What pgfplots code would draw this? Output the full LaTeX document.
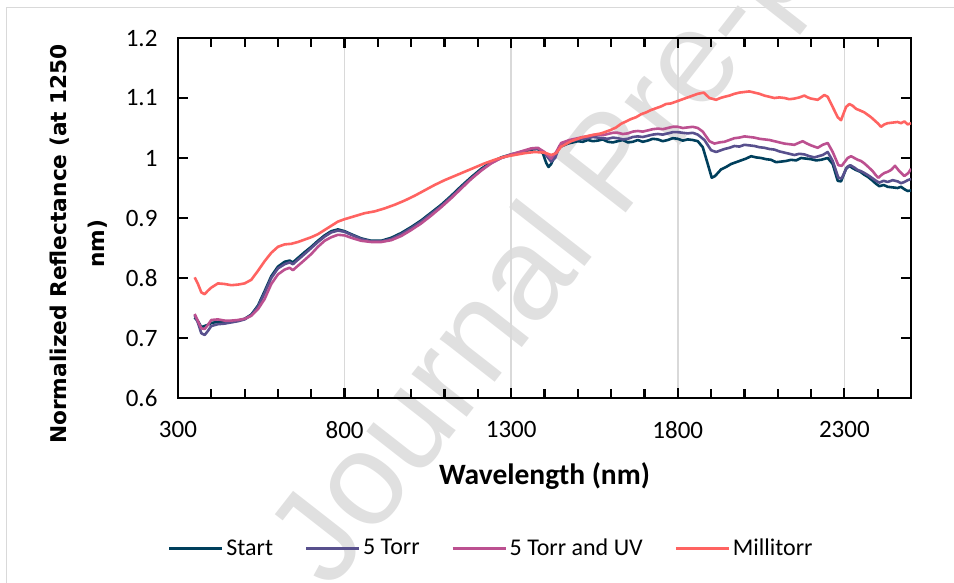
\documentclass[border=0pt]{standalone}
\usepackage{pgfplots}
\pgfplotsset{compat=1.18}
\usepackage{fontspec}
\setmainfont{Carlito}
\newfontfamily\dejavu{DejaVu Sans}
\newfontfamily\wmfont{Liberation Sans}
\definecolor{cStart}{HTML}{003F5C}
\definecolor{cFive}{HTML}{58508D}
\definecolor{cUV}{HTML}{BC5090}
\definecolor{cMilli}{HTML}{FF6361}
\begin{document}
\begin{tikzpicture}[x=1pt,y=1pt]
\path[use as bounding box] (0pt,0pt) rectangle (954pt,583pt);
\begin{scope}
\clip (0pt,0pt) rectangle (954pt,583pt);
\draw[black!15, line width=1pt] (6pt,-5pt) -- (6pt,575pt) -- (960pt,575pt);
\node[rotate=52, text=black!12, font=\wmfont\fontsize{132}{132}\selectfont] at (618pt,414pt) {Journal Pre-proof};
\end{scope}
\begin{axis}[
  at={(178pt,185pt)}, anchor=south west,
  scale only axis, width=733pt, height=360pt,
  xmin=300, xmax=2500, ymin=0.6, ymax=1.2,
  xtick={300,800,1300,1800,2300},
  xticklabels={300,800,1300,1800,2300},
  minor xtick={400,500,...,2500},
  ytick={0.6,0.7,0.8,0.9,1,1.1,1.2},
  yticklabels={0.6,0.7,0.8,0.9,1,1.1,1.2},
  tick align=inside, xtick pos=both, ytick pos=both,
  major tick length=10pt, minor tick length=9pt,
  tick style={draw=black, line width=2.2pt},
  axis line style={line width=2.2pt},
  tick label style={font=\fontsize{25}{30}\selectfont},
  /pgf/number format/assume math mode=true,
  xticklabel style={yshift=-20pt},
  yticklabel style={xshift=-17pt},
  xlabel={Wavelength (nm)},
  xlabel style={font=\bfseries\fontsize{29.5}{34}\selectfont, at={(axis description cs:0.5,-0.2167)}, anchor=center},
  ylabel={Normalized Reflectance (at 1250\\nm)},
  ylabel style={font=\dejavu\bfseries\fontsize{21.7}{38}\selectfont, align=center, at={(axis description cs:-0.135,0.428)}, anchor=center},
  legend columns=4,
  legend style={at={(axis description cs:0.4277,-0.4167)}, anchor=center, draw=none, fill=none,
    font=\fontsize{24}{28}\selectfont,
    /tikz/every even column/.append style={column sep=29pt},
    inner sep=0pt, nodes={inner sep=2.5pt}},
  legend image code/.code={\draw[#1, line width=3pt] (0pt,0pt) -- (53pt,0pt);},
  unbounded coords=jump,
]
\addplot[black!15, line width=1.5pt, forget plot] coordinates {(800,0.6) (800,1.2) (800,nan) (1300,0.6) (1300,1.2) (1300,nan) (1800,0.6) (1800,1.2) (1800,nan) (2300,0.6) (2300,1.2)};
\addplot[black, line width=2.2pt, forget plot] coordinates {
(400,0.6) (400,0.615) (400,nan) (500,0.6) (500,0.615) (500,nan) (600,0.6) (600,0.615) (600,nan)
(700,0.6) (700,0.615) (700,nan) (800,0.6) (800,0.617) (800,nan) (900,0.6) (900,0.615) (900,nan)
(1000,0.6) (1000,0.615) (1000,nan) (1100,0.6) (1100,0.615) (1100,nan) (1200,0.6) (1200,0.615) (1200,nan)
(1300,0.6) (1300,0.617) (1300,nan) (1400,0.6) (1400,0.615) (1400,nan) (1500,0.6) (1500,0.615) (1500,nan)
(1600,0.6) (1600,0.615) (1600,nan) (1700,0.6) (1700,0.615) (1700,nan) (1800,0.6) (1800,0.617) (1800,nan)
(1900,0.6) (1900,0.615) (1900,nan) (2000,0.6) (2000,0.615) (2000,nan) (2100,0.6) (2100,0.615) (2100,nan)
(2200,0.6) (2200,0.615) (2200,nan) (2300,0.6) (2300,0.617) (2300,nan) (2400,0.6) (2400,0.615)
};
\addplot[black, line width=2.2pt, forget plot] coordinates {
(400,1.2) (400,1.185) (400,nan) (500,1.2) (500,1.185) (500,nan) (600,1.2) (600,1.185) (600,nan)
(700,1.2) (700,1.185) (700,nan) (800,1.2) (800,1.183) (800,nan) (900,1.2) (900,1.185) (900,nan)
(1000,1.2) (1000,1.185) (1000,nan) (1100,1.2) (1100,1.185) (1100,nan) (1200,1.2) (1200,1.185) (1200,nan)
(1300,1.2) (1300,1.183) (1300,nan) (1400,1.2) (1400,1.185) (1400,nan) (1500,1.2) (1500,1.185) (1500,nan)
(1600,1.2) (1600,1.185) (1600,nan) (1700,1.2) (1700,1.185) (1700,nan) (1800,1.2) (1800,1.183) (1800,nan)
(1900,1.2) (1900,1.185) (1900,nan) (2000,1.2) (2000,1.185) (2000,nan) (2100,1.2) (2100,1.185) (2100,nan)
(2200,1.2) (2200,1.185) (2200,nan) (2300,1.2) (2300,1.183) (2300,nan) (2400,1.2) (2400,1.185)
};
\addplot[black, line width=2.2pt, forget plot] coordinates {
(300,0.7) (328,0.7) (300,nan) (300,0.8) (328,0.8) (300,nan) (300,0.9) (328,0.9) (300,nan)
(300,1.0) (328,1.0) (300,nan) (300,1.1) (328,1.1) (300,nan)
(2500,0.7) (2472,0.7) (2500,nan) (2500,0.8) (2472,0.8) (2500,nan) (2500,0.9) (2472,0.9) (2500,nan)
(2500,1.0) (2472,1.0) (2500,nan) (2500,1.1) (2472,1.1)
};
\addplot[cStart, line width=2.6pt, line join=round] table {
350 0.734
360 0.728
370 0.718
380 0.720
390 0.722
400 0.725
420 0.727
440 0.727
460 0.728
480 0.729
500 0.732
520 0.739
540 0.754
560 0.778
580 0.803
600 0.819
620 0.827
635 0.829
645 0.826
655 0.831
680 0.843
700 0.852
720 0.862
740 0.871
760 0.878
780 0.881
800 0.878
820 0.873
850 0.866
880 0.862
910 0.862
940 0.867
970 0.875
1000 0.885
1030 0.896
1060 0.909
1090 0.922
1120 0.937
1150 0.953
1180 0.968
1210 0.982
1240 0.993
1270 1.001
1300 1.006
1330 1.010
1360 1.014
1380 1.015
1395 1.008
1405 0.992
1412 0.985
1420 0.990
1430 1.003
1445 1.018
1470 1.024
1500 1.028
1515 1.027
1530 1.030
1545 1.028
1560 1.029
1575 1.031
1590 1.027
1605 1.026
1620 1.028
1635 1.030
1650 1.026
1665 1.027
1680 1.030
1695 1.027
1710 1.029
1725 1.032
1740 1.031
1755 1.028
1770 1.030
1785 1.033
1800 1.032
1815 1.029
1830 1.031
1845 1.030
1860 1.028
1875 1.018
1890 0.990
1902 0.967
1912 0.970
1930 0.981
1945 0.985
1960 0.990
1975 0.993
1990 0.996
2005 0.999
2020 1.003
2035 1.001
2050 1.000
2065 0.998
2080 0.997
2095 0.993
2110 0.994
2125 0.995
2140 0.997
2155 0.996
2170 1.000
2185 0.999
2200 0.998
2215 0.996
2230 0.997
2250 1.000
2265 0.990
2280 0.962
2290 0.961
2305 0.982
2315 0.987
2325 0.983
2335 0.980
2348 0.977
2360 0.972
2372 0.968
2385 0.962
2395 0.957
2405 0.953
2418 0.955
2430 0.952
2445 0.951
2460 0.950
2470 0.952
2480 0.948
2490 0.945
2500 0.946
};
\addlegendentry{Start}
\addplot[cFive, line width=2.6pt, line join=round] table {
350 0.738
360 0.725
370 0.708
380 0.705
390 0.712
400 0.720
420 0.723
440 0.724
460 0.726
480 0.728
500 0.731
520 0.738
540 0.752
560 0.775
580 0.800
600 0.816
620 0.823
635 0.826
645 0.823
655 0.828
680 0.840
700 0.850
720 0.860
740 0.869
760 0.876
780 0.879
800 0.877
820 0.872
850 0.865
880 0.861
910 0.861
940 0.865
970 0.873
1000 0.883
1030 0.894
1060 0.907
1090 0.920
1120 0.935
1150 0.951
1180 0.966
1210 0.980
1240 0.992
1270 1.000
1300 1.005
1330 1.010
1360 1.015
1380 1.016
1400 1.008
1420 0.994
1432 1.000
1445 1.020
1470 1.027
1500 1.031
1515 1.032
1530 1.033
1545 1.035
1560 1.034
1575 1.033
1590 1.032
1605 1.034
1620 1.033
1635 1.031
1650 1.032
1665 1.035
1680 1.036
1695 1.035
1710 1.037
1725 1.039
1740 1.040
1755 1.039
1770 1.041
1785 1.043
1800 1.043
1815 1.042
1830 1.041
1845 1.042
1860 1.039
1880 1.030
1900 1.013
1915 1.010
1930 1.013
1940 1.015
1955 1.017
1970 1.020
1985 1.019
2000 1.022
2015 1.021
2030 1.020
2045 1.018
2060 1.017
2075 1.015
2090 1.014
2105 1.011
2120 1.009
2135 1.007
2150 1.005
2165 1.007
2180 1.006
2195 1.003
2210 1.001
2235 1.005
2250 1.010
2265 0.995
2282 0.967
2292 0.966
2308 0.985
2318 0.988
2330 0.984
2340 0.980
2350 0.978
2360 0.975
2372 0.971
2385 0.966
2395 0.962
2405 0.959
2418 0.962
2430 0.960
2445 0.963
2460 0.961
2470 0.958
2480 0.960
2490 0.963
2500 0.965
};
\addlegendentry{5 Torr}
\addplot[cUV, line width=2.6pt, line join=round] table {
350 0.740
360 0.728
370 0.716
380 0.715
390 0.722
400 0.730
420 0.731
440 0.729
460 0.729
480 0.730
500 0.732
520 0.737
540 0.748
560 0.765
580 0.790
600 0.806
620 0.814
635 0.817
645 0.813
655 0.818
680 0.830
700 0.840
720 0.852
740 0.862
760 0.868
780 0.872
800 0.871
820 0.867
850 0.862
880 0.860
910 0.860
940 0.863
970 0.870
1000 0.880
1030 0.891
1060 0.904
1090 0.918
1120 0.933
1150 0.949
1180 0.965
1210 0.979
1240 0.991
1270 1.000
1300 1.006
1330 1.011
1360 1.016
1380 1.017
1400 1.010
1420 0.999
1435 1.010
1450 1.025
1475 1.030
1500 1.033
1515 1.035
1530 1.036
1545 1.038
1560 1.039
1575 1.038
1590 1.040
1605 1.042
1620 1.042
1635 1.040
1650 1.041
1665 1.044
1680 1.045
1695 1.044
1710 1.046
1725 1.048
1740 1.049
1755 1.048
1770 1.050
1785 1.052
1800 1.052
1815 1.050
1830 1.051
1845 1.052
1860 1.050
1875 1.044
1895 1.028
1910 1.024
1925 1.026
1940 1.027
1955 1.030
1970 1.033
1985 1.034
2000 1.036
2015 1.035
2030 1.034
2045 1.032
2060 1.031
2075 1.030
2090 1.028
2105 1.026
2120 1.024
2135 1.023
2150 1.022
2162 1.025
2175 1.028
2188 1.024
2200 1.021
2220 1.017
2235 1.022
2250 1.025
2265 1.010
2282 0.988
2292 0.987
2310 1.000
2320 1.003
2330 1.000
2340 0.997
2350 0.995
2360 0.991
2372 0.985
2385 0.978
2395 0.971
2402 0.967
2412 0.972
2420 0.975
2430 0.977
2440 0.980
2452 0.987
2465 0.978
2480 0.970
2492 0.975
2500 0.982
};
\addlegendentry{5 Torr and UV}
\addplot[cMilli, line width=2.6pt, line join=round] table {
350 0.801
360 0.790
370 0.776
380 0.773
390 0.779
400 0.784
420 0.791
440 0.790
460 0.788
480 0.789
500 0.791
520 0.797
540 0.812
560 0.828
580 0.842
600 0.852
620 0.856
640 0.857
660 0.860
680 0.864
700 0.868
720 0.873
740 0.880
760 0.887
780 0.894
800 0.898
830 0.903
860 0.908
890 0.911
920 0.916
950 0.922
980 0.929
1010 0.937
1040 0.946
1070 0.955
1100 0.963
1130 0.970
1160 0.977
1190 0.984
1220 0.991
1250 0.997
1280 1.002
1310 1.005
1340 1.008
1370 1.010
1400 1.009
1420 1.005
1435 1.008
1450 1.019
1480 1.028
1510 1.034
1540 1.038
1570 1.041
1600 1.047
1615 1.051
1630 1.057
1645 1.061
1660 1.065
1675 1.068
1690 1.073
1705 1.076
1720 1.080
1735 1.083
1750 1.086
1765 1.090
1780 1.091
1795 1.094
1810 1.097
1825 1.100
1840 1.103
1860 1.107
1878 1.109
1895 1.100
1915 1.097
1928 1.100
1940 1.102
1955 1.104
1970 1.107
1985 1.109
2000 1.110
2015 1.111
2030 1.109
2045 1.107
2060 1.104
2075 1.102
2090 1.100
2105 1.101
2120 1.100
2135 1.098
2150 1.099
2165 1.101
2180 1.104
2190 1.101
2200 1.099
2220 1.097
2240 1.105
2250 1.102
2265 1.085
2280 1.068
2290 1.063
2305 1.085
2315 1.090
2325 1.087
2335 1.082
2348 1.079
2360 1.076
2370 1.072
2380 1.068
2390 1.063
2400 1.058
2410 1.052
2420 1.056
2430 1.058
2445 1.059
2460 1.060
2470 1.058
2480 1.061
2490 1.056
2500 1.058
};
\addlegendentry{Millitorr}
\end{axis}
\end{tikzpicture}
\end{document}
